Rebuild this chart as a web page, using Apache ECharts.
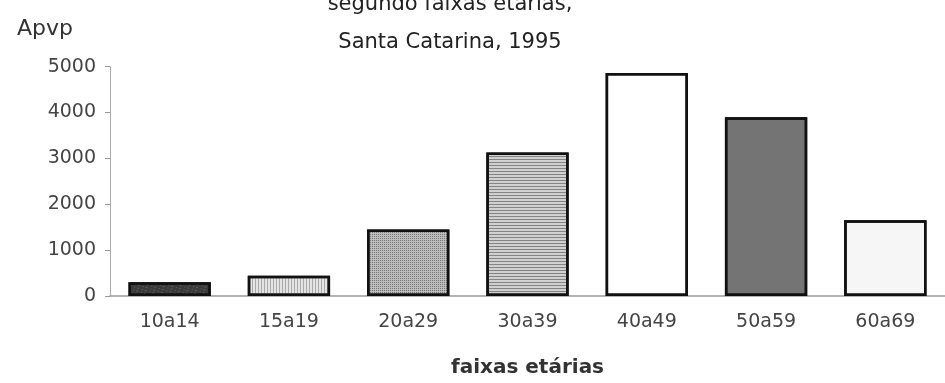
<!DOCTYPE html>
<html>
<head>
<meta charset="utf-8">
<script src="https://cdn.jsdelivr.net/npm/echarts@6/dist/echarts.min.js"></script>
<style>
  html, body { margin: 0; padding: 0; background: #fff; }
  #chart { width: 945px; height: 383px; }
</style>
</head>
<body>
<div id="chart"></div>
<script>
// Age groups and Apvp values, Santa Catarina 1995
const categories = ['10a14', '15a19', '20a29', '30a39', '40a49', '50a59', '60a69'];
const apvp = [300, 440, 1450, 3130, 4860, 3900, 1650];
const yTicks = [0, 1000, 2000, 3000, 4000, 5000];

// Per-bar fill and texture
const fills = [
  { color: '#3a3a3a', decal: { symbol: 'rect', symbolSize: 1, dashArrayX: [[2, 3, 1, 2]], dashArrayY: [1, 2], color: 'rgba(110,110,110,0.7)', rotation: 0.3 } },
  { color: '#e4e4e4', decal: { symbol: 'rect', symbolSize: 1, dashArrayX: [1, 2], dashArrayY: [4, 0], color: 'rgba(120,120,120,0.55)' } },
  { color: '#bdbdbd', decal: { symbol: 'rect', symbolSize: 1, dashArrayX: [1, 1], dashArrayY: [1, 1], color: 'rgba(70,70,70,0.6)' } },
  { color: '#d0d0d0', decal: { symbol: 'rect', symbolSize: 1, dashArrayX: [4, 0], dashArrayY: [1, 2], color: 'rgba(90,90,90,0.65)' } },
  { color: '#ffffff', decal: 'none' },
  { color: '#747474', decal: { symbol: 'rect', symbolSize: 1, dashArrayX: [[1, 2, 2, 1]], dashArrayY: [[1, 1, 2, 1]], color: 'rgba(50,50,50,0.55)', rotation: 0.5 } },
  { color: '#f6f6f6', decal: { symbol: 'rect', symbolSize: 1, dashArrayX: [[1, 5, 1, 7]], dashArrayY: [[1, 4, 1, 6]], color: 'rgba(170,170,170,0.6)', rotation: 0.4 } }
];

const chart = echarts.init(document.getElementById('chart'), null, { renderer: 'canvas' });

const titleFont = '"DejaVu Sans", "Noto Sans", sans-serif';
const labelFont = '"DejaVu Sans", "Liberation Sans", sans-serif';

chart.setOption({
  animation: false,
  aria: { enabled: true, decal: { show: true } },
  title: [
    {
      text: 'segundo faixas etárias,',
      left: 445, top: -11, textAlign: 'center',
      textStyle: { fontFamily: titleFont, fontSize: 21, fontWeight: 'normal', color: '#222' }
    },
    {
      text: 'Santa Catarina, 1995',
      left: 445, top: 27, textAlign: 'center',
      textStyle: { fontFamily: titleFont, fontSize: 21, fontWeight: 'normal', color: '#222' }
    },
    {
      text: 'Apvp',
      left: 12, top: 13,
      textStyle: { fontFamily: labelFont, fontSize: 22, fontWeight: 'normal', color: '#333' }
    }
  ],
  grid: { left: 110, top: 66.7, width: 845, bottom: 80.3, containLabel: false },
  xAxis: {
    type: 'category',
    data: categories,
    name: 'faixas etárias',
    nameLocation: 'middle',
    nameGap: 62,
    nameTextStyle: { fontFamily: labelFont, fontSize: 20, fontWeight: 'bold', color: '#333' },
    axisLine: { lineStyle: { color: '#9a9a9a', width: 1.5 } },
    axisTick: { show: false },
    axisLabel: { margin: 17, fontFamily: labelFont, fontSize: 19, color: '#444' }
  },
  yAxis: {
    type: 'value',
    min: 0, max: 5000, interval: 1000,
    axisLine: { show: true, lineStyle: { color: '#aaa', width: 1 } },
    axisTick: { show: true, length: 5, lineStyle: { color: '#999' } },
    splitLine: { show: false },
    axisLabel: {
      margin: 14, fontFamily: labelFont, fontSize: 19, color: '#444',
      formatter: v => yTicks.includes(v) ? String(v) : ''
    }
  },
  series: [{
    type: 'bar',
    barCategoryGap: '31%',
    data: apvp.map((v, i) => ({
      value: v,
      itemStyle: {
        color: fills[i].color,
        decal: fills[i].decal === 'none' ? { symbol: 'none' } : fills[i].decal,
        borderColor: '#111',
        borderWidth: 2.5
      }
    }))
  }]
});
</script>
</body>
</html>
